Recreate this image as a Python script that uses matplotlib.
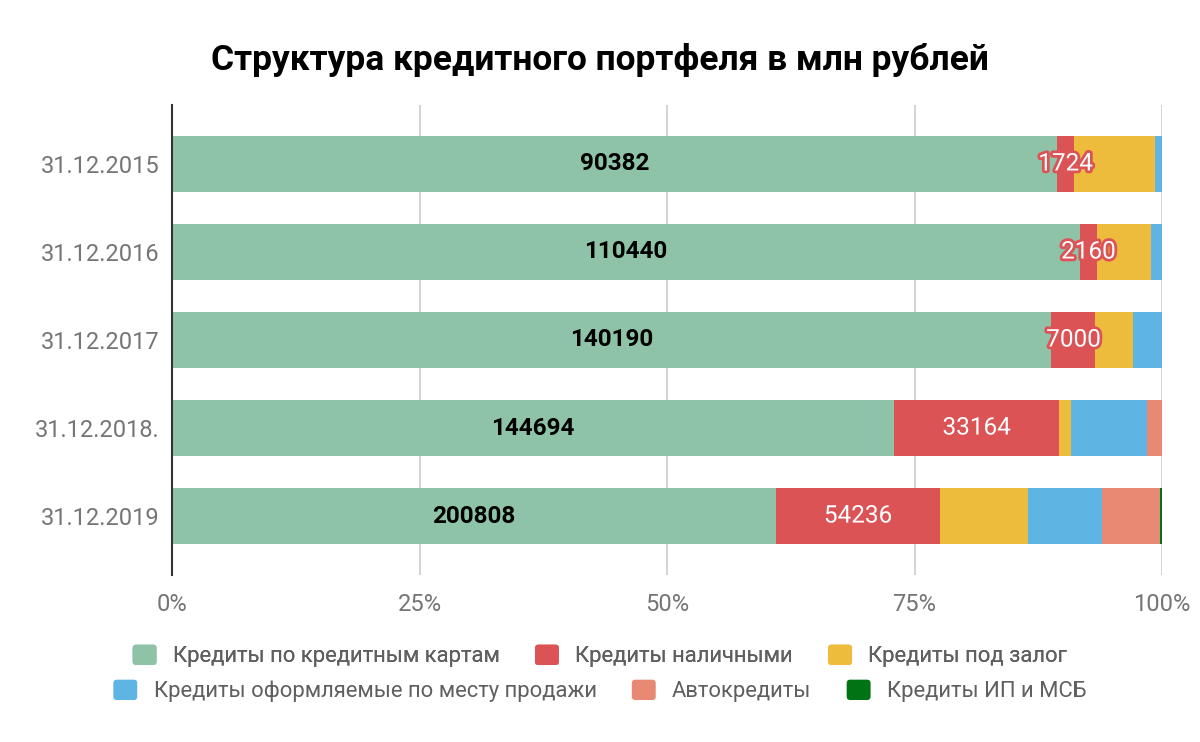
import matplotlib
matplotlib.use("Agg")
import matplotlib.pyplot as plt
import matplotlib.patheffects as pe
from matplotlib.patches import Patch, FancyBboxPatch
from matplotlib.legend_handler import HandlerPatch
import numpy as np

plt.rcParams['font.family'] = ['Roboto', 'DejaVu Sans']

title = "Структура кредитного портфеля в млн рублей"
dates = ["31.12.2015", "31.12.2016", "31.12.2017", "31.12.2018.", "31.12.2019"]
series_names = ["Кредиты по кредитным картам", "Кредиты наличными", "Кредиты под залог",
                "Кредиты оформляемые по месту продажи", "Автокредиты", "Кредиты ИП и МСБ"]
cards = [90382, 110440, 140190, 144694, 200808]
cash = [1724, 2160, 7000, 33164, 54236]
pledge = [8300, 6570, 6050, 2400, 29260]
pos_loans = [690, 1300, 4570, 15170, 24600]
auto = [0, 0, 0, 3000, 19380]
msb = [0, 0, 0, 0, 660]
xticks = [0, 25, 50, 75, 100]
xticklabels = ["0%", "25%", "50%", "75%", "100%"]

colors = ["#8ec3a7", "#dc5356", "#eebc3c", "#5eb5e4", "#e88a73", "#007315"]

data = np.array([cards, cash, pledge, pos_loans, auto, msb], dtype=float)
totals = data.sum(axis=0)
shares = data / totals * 100

fig = plt.figure(figsize=(12, 7.42), dpi=100)
ax = fig.add_axes([172/1200, 1-575/742, 990/1200, 470/742])

y = np.arange(len(dates))
left = np.zeros(len(dates))
for i, (name, col) in enumerate(zip(series_names, colors)):
    ax.barh(y, shares[i], left=left, height=0.636, color=col, zorder=3, linewidth=0)
    if i == 0:
        for j in range(len(dates)):
            ax.text(left[j] + shares[i][j] / 2, y[j], str(cards[j]), ha='center', va='center',
                    fontsize=17.5, fontweight='bold', color='#000000', zorder=5)
    elif i == 1:
        for j in range(len(dates)):
            ax.text(left[j] + shares[i][j] / 2, y[j], str(cash[j]), ha='center', va='center',
                    fontsize=17.5, color='white', zorder=5,
                    path_effects=[pe.withStroke(linewidth=4, foreground=col)])
    left += shares[i]

ax.set_xlim(0, 100)
ax.set_ylim(4.67, -0.67)
ax.set_yticks(y)
ax.set_yticklabels(dates)
ax.set_xticks(xticks)
ax.set_xticklabels(xticklabels)
ax.tick_params(axis='both', length=0, labelsize=17, colors='#757575')
ax.tick_params(axis='x', pad=13)
ax.tick_params(axis='y', pad=9)
ax.grid(axis='x', color='#cccccc', linewidth=1.2, zorder=0)
for s in ['top', 'right', 'bottom']:
    ax.spines[s].set_visible(False)
ax.spines['left'].set_color('#333333')
ax.spines['left'].set_linewidth(1.5)
ax.spines['left'].set_zorder(4)

fig.text(0.5, 1 - 60/742, title, ha='center', va='center', fontsize=25.5,
         fontweight='bold', color='#000000')


class RoundHandler(HandlerPatch):
    def create_artists(self, legend, orig_handle, xdescent, ydescent, width, height,
                       fontsize, trans):
        p = FancyBboxPatch((-xdescent, -ydescent), width, height,
                           boxstyle="round,pad=0,rounding_size=2.5",
                           facecolor=orig_handle.get_facecolor(), edgecolor='none',
                           transform=trans)
        return [p]


def make_leg(idx, ypix):
    handles = [Patch(facecolor=colors[k], edgecolor='none') for k in idx]
    labels = [series_names[k] for k in idx]
    leg = fig.legend(handles, labels, loc='center', bbox_to_anchor=(0.5, 1 - ypix/742),
                     ncol=len(idx), frameon=False, fontsize=15.8, handlelength=1.09,
                     handleheight=1.05, handletextpad=0.75, columnspacing=1.6,
                     labelcolor='#5f5f5f', handler_map={Patch: RoundHandler()})
    return leg

leg1 = make_leg([0, 1, 2], 656)
fig.add_artist(leg1)
leg2 = make_leg([3, 4, 5], 691)

fig.savefig("out.png", dpi=100, facecolor='white')
